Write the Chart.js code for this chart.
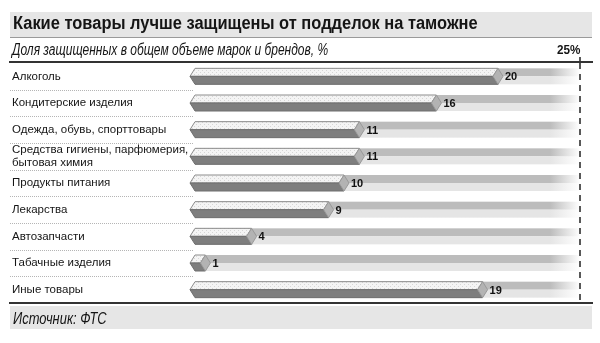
<!DOCTYPE html>
<html><head><meta charset="utf-8">
<script src="https://cdn.jsdelivr.net/npm/chart.js@4.4.1/dist/chart.umd.min.js"></script>
<style>
html,body{margin:0;padding:0;background:#fff;}
body{width:600px;height:343px;overflow:hidden;position:relative;font-family:"Liberation Sans",Arial,sans-serif;}
#c{position:absolute;left:0;top:0;}
.t{position:absolute;white-space:nowrap;color:#151515;line-height:1;transform-origin:0 0;}
</style></head><body>
<canvas id="c" width="600" height="343"></canvas>
<div class="t" id="title" style="left:13px;top:15px;font-weight:bold;font-size:17.5px;transform:scaleX(0.94);">Какие товары лучше защищены от подделок на таможне</div>
<div class="t" id="sub" style="left:12px;top:42px;font-style:italic;font-size:16px;transform:scaleX(0.75);">Доля защищенных в общем объеме марок и брендов, %</div>
<div class="t" id="max" style="left:557px;top:43px;font-weight:bold;font-size:13px;transform:scaleX(0.9);">25%</div>
<div class="t" id="src" style="left:13px;top:310px;font-style:italic;font-size:17px;transform:scaleX(0.76);">Источник: ФТС</div>
<script>
const categories = [
  "Алкоголь",
  "Кондитерские изделия",
  "Одежда, обувь, спорттовары",
  ["Средства гигиены, парфюмерия,", "бытовая химия"],
  "Продукты питания",
  "Лекарства",
  "Автозапчасти",
  "Табачные изделия",
  "Иные товары"
];
const shares = [20, 16, 11, 11, 10, 9, 4, 1, 19];
const axisMax = 25;

function makePattern(ctx) {
  const p = document.createElement('canvas');
  p.width = 4; p.height = 4;
  const g = p.getContext('2d');
  g.fillStyle = '#f4f4f4'; g.fillRect(0, 0, 4, 4);
  g.fillStyle = '#d6d6d6';
  g.fillRect(0, 0, 1, 1); g.fillRect(2, 2, 1, 1);
  return ctx.createPattern(p, 'repeat');
}

const decor = {
  id: 'decor',
  beforeDraw(chart) {
    const ctx = chart.ctx;
    ctx.save();
    ctx.fillStyle = '#fff';
    ctx.fillRect(0, 0, 600, 343);
    ctx.fillStyle = '#e6e6e6';
    ctx.fillRect(10, 12, 582, 26);
    ctx.fillStyle = '#9a9a9a';
    ctx.fillRect(10, 37, 582, 1);
    ctx.fillStyle = '#e6e6e6';
    ctx.fillRect(10, 306, 582, 23);
    ctx.fillStyle = '#333';
    ctx.fillRect(9, 61, 584, 2);
    ctx.fillRect(9, 302, 584, 2);
    ctx.restore();
  },
  beforeDatasetsDraw(chart) {
    const ctx = chart.ctx;
    const xs = chart.scales.x;
    const yS = chart.scales.y;
    const meta = chart.getDatasetMeta(0);
    ctx.save();
    ctx.strokeStyle = '#b5b5b5';
    ctx.lineWidth = 1;
    ctx.setLineDash([1, 1]);
    for (let i = 1; i < categories.length; i++) {
      const yb = Math.round((yS.getPixelForValue(i - 1) + yS.getPixelForValue(i)) / 2) + 0.5;
      ctx.beginPath();
      ctx.moveTo(10, yb);
      ctx.lineTo(193, yb);
      ctx.stroke();
    }
    ctx.setLineDash([]);
    const xEnd = xs.getPixelForValue(axisMax);
    meta.data.forEach((el) => {
      const h = el.height;
      const top = el.y - h / 2, mid = el.y;
      const x0 = el.base;
      const gTop = ctx.createLinearGradient(xEnd - 30, 0, xEnd, 0);
      gTop.addColorStop(0, 'rgba(188,188,188,1)');
      gTop.addColorStop(1, 'rgba(188,188,188,0)');
      const gBot = ctx.createLinearGradient(xEnd - 30, 0, xEnd, 0);
      gBot.addColorStop(0, 'rgba(229,229,229,1)');
      gBot.addColorStop(1, 'rgba(229,229,229,0)');
      ctx.fillStyle = gTop;
      ctx.fillRect(x0, top, xEnd - x0, h / 2);
      ctx.fillStyle = gBot;
      ctx.fillRect(x0, mid, xEnd - x0, h / 2);
    });
    ctx.strokeStyle = '#222';
    ctx.lineWidth = 1.5;
    ctx.setLineDash([6, 5]);
    ctx.beginPath();
    ctx.moveTo(xEnd, 63);
    ctx.lineTo(xEnd, 302);
    ctx.stroke();
    ctx.setLineDash([]);
    ctx.beginPath();
    ctx.moveTo(xEnd, 57);
    ctx.lineTo(xEnd, 61);
    ctx.stroke();
    ctx.restore();
  },
  afterDatasetsDraw(chart) {
    const ctx = chart.ctx;
    const meta = chart.getDatasetMeta(0);
    const pat = makePattern(ctx);
    ctx.save();
    meta.data.forEach((el, i) => {
      const h = el.height;
      const top = el.y - h / 2, mid = el.y, bot = el.y + h / 2;
      const x0 = el.base, xe = el.x;
      const b = 5;
      ctx.beginPath();
      ctx.moveTo(x0 - b, mid);
      ctx.lineTo(x0, top);
      ctx.lineTo(xe - b, top);
      ctx.lineTo(xe - 2 * b, mid);
      ctx.closePath();
      ctx.fillStyle = pat;
      ctx.fill();
      ctx.strokeStyle = '#8c8c8c';
      ctx.lineWidth = 1;
      ctx.stroke();
      ctx.beginPath();
      ctx.moveTo(x0 - b, mid);
      ctx.lineTo(xe - 2 * b, mid);
      ctx.lineTo(xe - b, bot);
      ctx.lineTo(x0, bot);
      ctx.closePath();
      ctx.fillStyle = '#7e7e7e';
      ctx.fill();
      ctx.strokeStyle = '#6e6e6e';
      ctx.stroke();
      ctx.beginPath();
      ctx.moveTo(xe - 2 * b, mid);
      ctx.lineTo(xe - b, top);
      ctx.lineTo(xe, mid);
      ctx.lineTo(xe - b, bot);
      ctx.closePath();
      ctx.fillStyle = '#b3b3b3';
      ctx.fill();
      ctx.strokeStyle = '#999';
      ctx.stroke();
      ctx.fillStyle = '#111';
      ctx.font = 'bold 11px "Liberation Sans", Arial, sans-serif';
      ctx.textAlign = 'left';
      ctx.textBaseline = 'middle';
      ctx.fillText(String(shares[i]), xe + 2, mid + 1);
    });
    ctx.restore();
  }
};

new Chart(document.getElementById('c'), {
  type: 'bar',
  data: {
    labels: categories,
    datasets: [{
      data: shares,
      backgroundColor: 'rgba(0,0,0,0)',
      borderWidth: 0,
      barThickness: 16
    }]
  },
  options: {
    indexAxis: 'y',
    responsive: false,
    animation: false,
    events: [],
    layout: { padding: { top: 63, bottom: 40, left: 12, right: 20 } },
    plugins: { legend: { display: false }, tooltip: { enabled: false }, title: { display: false } },
    scales: {
      x: { display: false, min: 0, max: axisMax },
      y: {
        grid: { display: false },
        border: { display: false },
        afterFit(axis) { axis.width = 183; },
        ticks: {
          autoSkip: false,
          crossAlign: 'far',
          padding: 0,
          color: '#151515',
          font: { family: '"Liberation Sans", Arial, sans-serif', size: 11.5, lineHeight: 1.15 }
        }
      }
    }
  },
  plugins: [decor]
});
</script>
</body></html>
